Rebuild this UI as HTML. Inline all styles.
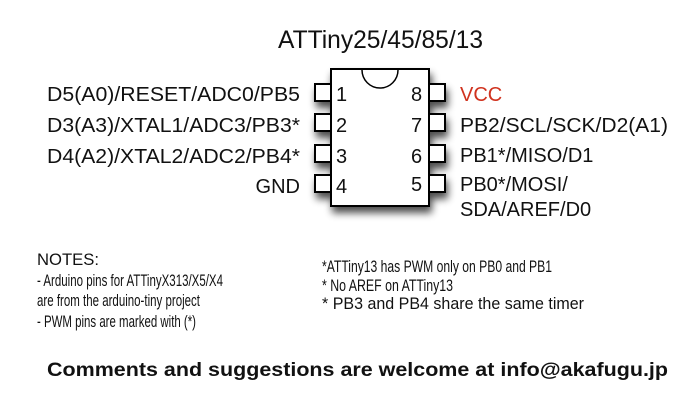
<!DOCTYPE html>
<html><head><meta charset="utf-8"><style>
html,body{margin:0;padding:0;background:#fff;}
svg{display:block}
text{font-family:"Liberation Sans",sans-serif;fill:#111}
</style></head><body>
<svg width="691" height="405" viewBox="0 0 691 405" xmlns="http://www.w3.org/2000/svg">
<defs>
<filter id="sh" x="-30%" y="-30%" width="160%" height="160%">
<feGaussianBlur in="SourceAlpha" stdDeviation="4"/>
<feOffset dx="2" dy="6"/>
<feComponentTransfer><feFuncA type="linear" slope="0.7"/></feComponentTransfer>
<feMerge><feMergeNode/><feMergeNode in="SourceGraphic"/></feMerge>
</filter>
</defs>
<text x="278" y="48" font-size="25" textLength="205" lengthAdjust="spacingAndGlyphs">ATTiny25/45/85/13</text>
<g filter="url(#sh)" stroke="#000" stroke-width="2" fill="#fff">
<rect x="315" y="84" width="16" height="17"/>
<rect x="315" y="114" width="16" height="17"/>
<rect x="315" y="145" width="16" height="17"/>
<rect x="315" y="175" width="16" height="17"/>
<rect x="429" y="84" width="16" height="17"/>
<rect x="429" y="114" width="16" height="17"/>
<rect x="429" y="145" width="16" height="17"/>
<rect x="429" y="175" width="16" height="17"/>
<rect x="331" y="69" width="98" height="137"/>
</g>
<path d="M362 70 A18 18 0 0 0 398 70" fill="none" stroke="#000" stroke-width="1.5"/>
<g font-size="20">
<text x="336" y="101">1</text><text x="336" y="132">2</text><text x="336" y="163">3</text><text x="336" y="193">4</text>
<text x="411" y="101">8</text><text x="411" y="132">7</text><text x="411" y="163">6</text><text x="411" y="191">5</text>
<text x="300" y="101" text-anchor="end" textLength="253" lengthAdjust="spacingAndGlyphs">D5(A0)/RESET/ADC0/PB5</text>
<text x="300" y="132" text-anchor="end" textLength="253" lengthAdjust="spacingAndGlyphs">D3(A3)/XTAL1/ADC3/PB3*</text>
<text x="300" y="163" text-anchor="end" textLength="253" lengthAdjust="spacingAndGlyphs">D4(A2)/XTAL2/ADC2/PB4*</text>
<text x="300" y="193" text-anchor="end">GND</text>
<text x="460" y="101" style="fill:#d0321e">VCC</text>
<text x="460" y="132" textLength="208" lengthAdjust="spacingAndGlyphs">PB2/SCL/SCK/D2(A1)</text>
<text x="460" y="162">PB1*/MISO/D1</text>
<text x="460" y="191">PB0*/MOSI/</text>
<text x="460" y="216">SDA/AREF/D0</text>
</g>
<g font-size="17">
<text x="37" y="265" textLength="62" lengthAdjust="spacingAndGlyphs">NOTES:</text>
<text x="37" y="286" textLength="186" lengthAdjust="spacingAndGlyphs">- Arduino pins for ATTinyX313/X5/X4</text>
<text x="37" y="306" textLength="163" lengthAdjust="spacingAndGlyphs">are from the arduino-tiny project</text>
<text x="37" y="327" textLength="159" lengthAdjust="spacingAndGlyphs">- PWM pins are marked with (*)</text>
<text x="322" y="272" textLength="230" lengthAdjust="spacingAndGlyphs">*ATTiny13 has PWM only on PB0 and PB1</text>
<text x="322" y="291" textLength="131" lengthAdjust="spacingAndGlyphs">* No AREF on ATTiny13</text>
<text x="322" y="309" textLength="262" lengthAdjust="spacingAndGlyphs">* PB3 and PB4 share the same timer</text>
</g>
<text x="47" y="376" font-size="19" font-weight="bold" textLength="621" lengthAdjust="spacingAndGlyphs">Comments and suggestions are welcome at info@akafugu.jp</text>
</svg>
</body></html>
